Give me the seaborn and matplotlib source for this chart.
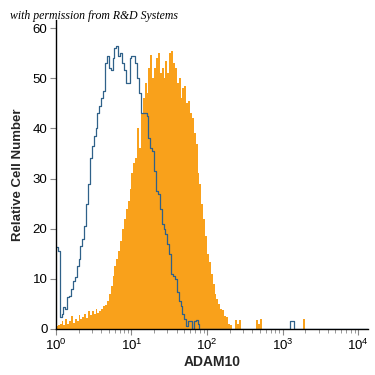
import matplotlib
matplotlib.use("Agg")
import matplotlib.pyplot as plt
import matplotlib.ticker as mticker
import numpy as np
import pandas as pd
import seaborn as sns

# histogram channels, each 0.025 decade wide, starting at 10^0
CHANNEL_WIDTH = 0.025

# isotype control (blue outline), channel 0 upward
control_counts = [
    16.4, 15.5, 2.4, 3.0, 4.4, 4.0, 6.4, 6.5, 8.0, 9.5,
    10.4, 12.5, 14.0, 16.5, 18.0, 20.5, 25.0, 29.0, 34.0, 36.5,
    38.5, 40.0, 43.0, 44.5, 46.0, 47.5, 53.0, 54.5, 52.0, 51.6,
    54.0, 56.0, 56.4, 54.5, 55.0, 53.0, 51.6, 49.0, 49.0, 54.0,
    54.5, 54.5, 53.0, 50.0, 47.0, 43.0, 43.0, 43.0, 42.5, 38.0,
    36.0, 35.5, 31.5, 27.5, 27.0, 24.0, 21.0, 20.0, 19.0, 17.0,
    15.0, 11.0, 10.5, 10.0, 7.4, 5.5, 4.5, 3.0, 2.0, 0.5,
    1.5, 1.5, 0.0, 1.5, 1.8, 1.0,
]
control_tail_channels = [124, 125]
control_tail_counts = [1.5, 1.5]

# ADAM10 antibody (orange filled), channel 0 upward
adam10_counts = [
    0.5, 0.8, 1.0, 1.5, 0.8, 2.0, 1.0, 1.5, 2.5, 1.2,
    2.0, 1.5, 2.8, 2.0, 2.4, 3.0, 2.2, 3.5, 2.8, 3.6,
    3.0, 4.0, 3.2, 3.5, 4.0, 4.5, 4.8, 5.5, 7.0, 8.5,
    10.5, 12.5, 14.0, 15.5, 17.5, 20.0, 22.0, 24.0, 25.5, 28.0,
    31.0, 33.0, 34.0, 40.0, 36.0, 43.0, 46.0, 49.0, 47.0, 52.0,
    54.6, 50.0, 52.0, 54.0, 55.0, 51.0, 52.0, 50.0, 53.5, 51.0,
    55.0, 55.5, 53.0, 52.0, 49.0, 50.0, 46.0, 48.0, 48.5, 45.0,
    45.5, 43.0, 42.0, 39.0, 36.8, 31.0, 29.0, 25.0, 22.0, 18.6,
    15.0, 13.4, 11.0, 9.0, 7.0, 6.0, 5.0, 4.0, 3.8, 2.6,
    2.4, 1.0, 0.8,
]
adam10_tail_channels = [95, 96, 97, 106, 107, 108, 131]
adam10_tail_counts = [1.8, 1.0, 1.8, 1.8, 1.0, 2.0, 2.0]

BLUE = "#2f6189"
ORANGE = "#f9a11b"


def to_frame(counts, tail_channels, tail_counts):
    channels = list(range(len(counts))) + list(tail_channels)
    weights = list(counts) + list(tail_counts)
    centers = (np.array(channels) + 0.5) * CHANNEL_WIDTH
    return pd.DataFrame({"signal": 10 ** centers, "count": weights})


def main():
    sns.set_style("white")
    plt.rcParams["font.family"] = ["Liberation Sans", "DejaVu Sans"]

    control = to_frame(control_counts, control_tail_channels, control_tail_counts)
    adam10 = to_frame(adam10_counts, adam10_tail_channels, adam10_tail_counts)

    fig = plt.figure(figsize=(3.75, 3.75), dpi=100)
    ax = fig.add_axes([0.149, 0.1227, 0.832, 0.824])

    bin_opts = dict(binwidth=CHANNEL_WIDTH, binrange=(0, 4.2), log_scale=True)
    sns.histplot(data=adam10, x="signal", weights="count", element="step",
                 fill=True, color=ORANGE, alpha=1, linewidth=0, ax=ax, **bin_opts)
    sns.histplot(data=control, x="signal", weights="count", element="step",
                 fill=False, color=BLUE, linewidth=0.9, ax=ax, **bin_opts)

    ax.set_xlim(1, 10 ** 4.13)
    ax.set_ylim(0, 61.6)
    ax.set_yticks([0, 10, 20, 30, 40, 50, 60])
    ax.xaxis.set_major_locator(mticker.LogLocator(base=10, numticks=10))
    ax.xaxis.set_minor_locator(mticker.LogLocator(base=10, subs=np.arange(2, 10), numticks=20))
    ax.xaxis.set_minor_formatter(mticker.NullFormatter())

    for side in ("top", "right"):
        ax.spines[side].set_visible(False)
    for side in ("left", "bottom"):
        ax.spines[side].set_color("black")
        ax.spines[side].set_linewidth(1.0)

    ax.tick_params(axis="both", which="major", direction="out", length=4, width=0.8,
                   color="#888888", labelsize=9.5, labelcolor="black", pad=2)
    ax.tick_params(axis="x", which="minor", direction="out", length=3, width=0.6,
                   color="#888888")
    ax.tick_params(left=True, bottom=True)
    ax.tick_params(axis="x", which="minor", bottom=True)

    ax.set_xlabel("ADAM10", fontsize=10, fontweight="bold", labelpad=2)
    ax.set_ylabel("Relative Cell Number", fontsize=9.5, fontweight="bold", labelpad=6)

    fig.text(0.027, 0.948, "with permission from R&D Systems", fontsize=8.5,
             family=["Liberation Serif", "DejaVu Serif"], style="italic",
             color="black", ha="left", va="baseline")

    fig.savefig("out.png", dpi=100, facecolor="white")


if __name__ == "__main__":
    main()
